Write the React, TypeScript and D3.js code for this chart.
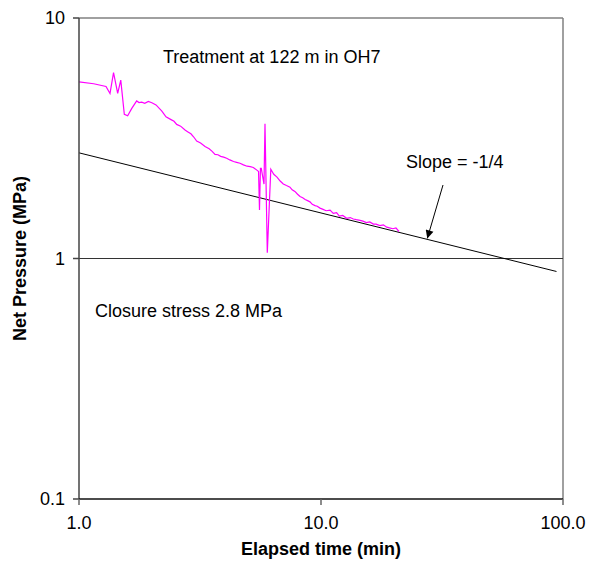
import React from "react";
import * as d3 from "d3";

const timeMin: number[] = [1.0, 1.15, 1.293, 1.343, 1.389, 1.445, 1.488, 1.539, 1.589, 1.65, 1.731, 1.77, 1.816, 1.87, 1.934, 2.0, 2.081, 2.2, 2.288, 2.4, 2.47, 2.533, 2.63, 2.742, 2.82, 2.9, 2.98, 3.064, 3.18, 3.317, 3.45, 3.55, 3.648, 3.75, 3.85, 3.96, 4.077, 4.2, 4.35, 4.48, 4.627, 4.78, 4.95, 5.1, 5.252, 5.467, 5.52, 5.57, 5.62, 5.665, 5.814, 5.869, 5.999, 6.203, 6.38, 6.58, 6.78, 6.985, 7.2, 7.445, 7.6, 7.8, 8.0, 8.19, 8.4, 8.6, 8.8, 9.005, 9.2, 9.45, 9.65, 9.906, 10.2, 10.5, 10.9, 11.24, 11.6, 11.9, 12.3, 12.77, 13.2, 13.6, 14.0, 14.5, 14.9, 15.4, 15.9, 16.45, 16.9, 17.5, 18.1, 18.69, 19.2, 19.8, 20.4, 21.0];
const netPressure: number[] = [5.43, 5.33, 5.19, 4.85, 5.93, 4.86, 5.52, 3.98, 3.92, 4.2, 4.52, 4.45, 4.47, 4.42, 4.5, 4.44, 4.35, 4.1, 3.88, 3.78, 3.72, 3.61, 3.55, 3.42, 3.36, 3.3, 3.2, 3.08, 3.02, 2.92, 2.86, 2.79, 2.71, 2.7, 2.66, 2.64, 2.61, 2.57, 2.53, 2.51, 2.49, 2.45, 2.42, 2.41, 2.39, 2.32, 2.3, 1.59, 2.37, 2.37, 2.04, 3.63, 1.057, 2.35, 2.24, 2.18, 2.1, 2.04, 2.01, 1.98, 1.93, 1.9, 1.85, 1.81, 1.79, 1.76, 1.74, 1.72, 1.68, 1.66, 1.65, 1.62, 1.6, 1.58, 1.59, 1.54, 1.55, 1.5, 1.51, 1.47, 1.48, 1.46, 1.45, 1.44, 1.43, 1.41, 1.42, 1.39, 1.39, 1.37, 1.38, 1.35, 1.34, 1.33, 1.34, 1.295];

const slopeX: number[] = [1, 94];
const slopeCoef = 2.75;
const slopeExp = -0.25;

const xTicks: number[] = [1, 10, 100];
const xTickLabels: string[] = ["1.0", "10.0", "100.0"];
const yTicks: number[] = [0.1, 1, 10];
const yTickLabels: string[] = ["0.1", "1", "10"];

export default function App() {
  const W = 594, H = 568;
  const left = 79, right = 563, top = 18, bottom = 499;
  const x = d3.scaleLog().domain([1, 100]).range([left, right]);
  const y = d3.scaleLog().domain([0.1, 10]).range([bottom, top]);
  const data = timeMin.map((t, i) => [t, netPressure[i]] as [number, number]);
  const line = d3.line<[number, number]>().x(d => x(d[0])).y(d => y(d[1]));
  const slopeData = slopeX.map(t => [t, slopeCoef * Math.pow(t, slopeExp)] as [number, number]);
  const font = "Arial, 'Liberation Sans', sans-serif";
  const arrowTip = [x(27.5), y(slopeCoef * Math.pow(27.5, slopeExp)) - 1];
  return (
    <svg width={W} height={H} style={{ position: "absolute", left: 0, top: 0, background: "#fff" }} fontFamily={font}>
      <defs>
        <marker id="ah" viewBox="0 0 10 10" refX="10" refY="5" markerWidth="9" markerHeight="8" orient="auto" markerUnits="userSpaceOnUse">
          <path d="M0,0 L10,5 L0,10 z" fill="#000" />
        </marker>
      </defs>
      <rect x={left} y={top} width={right - left} height={bottom - top} fill="#fff" />
      <line x1={left} x2={right} y1={top} y2={top} stroke="#808080" strokeWidth={1.5} />
      <line x1={right} x2={right} y1={top} y2={bottom} stroke="#808080" strokeWidth={1.5} />
      <line x1={left} x2={right} y1={y(1)} y2={y(1)} stroke="#333" strokeWidth={1} />
      <path d={line(slopeData) || ""} fill="none" stroke="#000" strokeWidth={1} />
      <path d={line(data) || ""} fill="none" stroke="#FF00FF" strokeWidth={1.2} />
      <line x1={left} x2={left} y1={top} y2={bottom} stroke="#444" strokeWidth={1.5} />
      <line x1={left} x2={right} y1={bottom} y2={bottom} stroke="#111" strokeWidth={1.5} />
      {yTicks.map((v, i) => (
        <g key={"y" + i}>
          <line x1={left - 6} x2={left} y1={y(v)} y2={y(v)} stroke="#444" strokeWidth={1.5} />
          <text x={left - 14} y={y(v)} dy="0.35em" textAnchor="end" fontSize={18}>{yTickLabels[i]}</text>
        </g>
      ))}
      {xTicks.map((v, i) => (
        <g key={"x" + i}>
          <line x1={x(v)} x2={x(v)} y1={bottom} y2={bottom + 6} stroke="#666" strokeWidth={1.5} />
          <text x={x(v)} y={bottom + 24} dy="0.35em" textAnchor="middle" fontSize={18}>{xTickLabels[i]}</text>
        </g>
      ))}
      <text x={(left + right) / 2} y={555} textAnchor="middle" fontSize={18} fontWeight="bold">Elapsed time (min)</text>
      <text transform={`translate(26,${(top + bottom) / 2}) rotate(-90)`} textAnchor="middle" fontSize={18} fontWeight="bold">Net Pressure (MPa)</text>
      <text x={163} y={63} fontSize={18}>Treatment at 122 m in OH7</text>
      <text x={406} y={168} fontSize={18}>Slope = -1/4</text>
      <text x={95} y={317} fontSize={18}>Closure stress 2.8 MPa</text>
      <line x1={443} y1={185} x2={arrowTip[0]} y2={arrowTip[1]} stroke="#000" strokeWidth={1} markerEnd="url(#ah)" />
    </svg>
  );
}
